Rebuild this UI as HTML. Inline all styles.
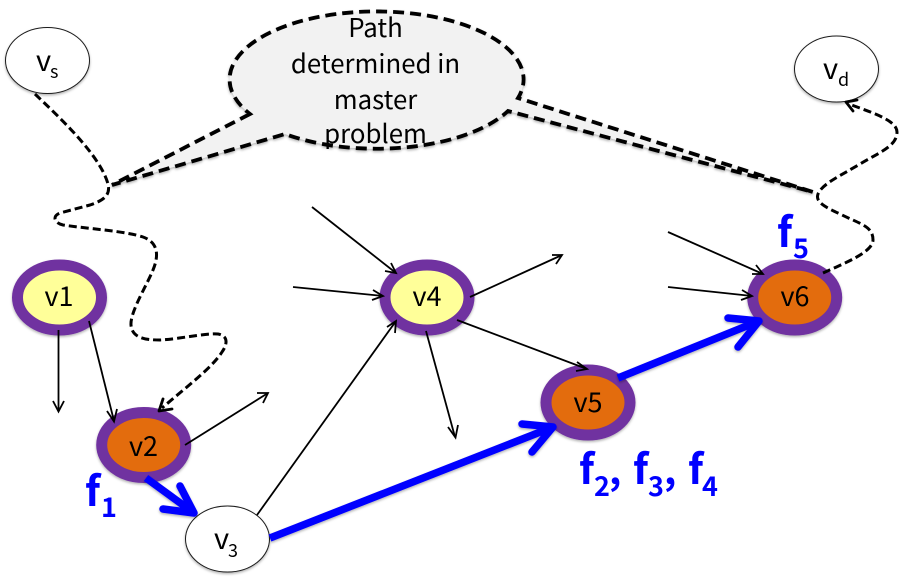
<!DOCTYPE html>
<html>
<head>
<meta charset="utf-8">
<style>
html,body{margin:0;padding:0;background:#fff;width:905px;height:585px;overflow:hidden}
svg{display:block}
text{font-family:"Noto Sans CJK KR","Liberation Sans",sans-serif;fill:#000}
.b{fill:#0000ff;font-weight:700;font-size:41px}
.bs{fill:#0000ff;font-weight:700;font-size:27px}
.cm{fill:#0000ff;font-weight:700;font-size:38px}
.n{font-size:27px;text-anchor:middle}
.c{font-size:25.800px;text-anchor:middle}
</style>
</head>
<body>
<svg width="905" height="585" viewBox="0 0 905 585" xmlns="http://www.w3.org/2000/svg">
<defs>
<filter id="s" x="-20%" y="-20%" width="140%" height="150%">
<feDropShadow dx="0" dy="1.5" stdDeviation="1.2" flood-color="#000" flood-opacity="0.3"/>
</filter>
</defs>

<!-- callout -->
<path d="M250,114 L112,185 L285,134 A147 68 0 0 0 508,111 L813,192 L518,98 A147 68 0 1 0 250,114 Z" fill="#f2f2f2" stroke="#000" stroke-width="3.8" stroke-dasharray="11 6" filter="url(#s)"/>

<!-- plain nodes -->
<g fill="#fff" stroke="#1a1a1a" stroke-width="1" filter="url(#s)">
<ellipse cx="47.500" cy="60.500" rx="42" ry="33"/>
<ellipse cx="836.500" cy="69" rx="42" ry="33"/>
<ellipse cx="227.500" cy="539" rx="42" ry="33"/>
</g>

<!-- purple nodes -->
<g stroke="#7030a0" stroke-width="11" filter="url(#s)">
<ellipse cx="59.500" cy="297.500" rx="42" ry="32.500" fill="#ffff99"/>
<ellipse cx="427" cy="297.500" rx="42" ry="32.500" fill="#ffff99"/>
<ellipse cx="143.700" cy="445" rx="42" ry="32.500" fill="#e36c0a"/>
<ellipse cx="588" cy="402.500" rx="42" ry="32.500" fill="#e36c0a"/>
<ellipse cx="794.700" cy="297.500" rx="42" ry="32.500" fill="#e36c0a"/>
</g>

<!-- dashed paths -->
<g fill="none" stroke="#000" stroke-width="3" stroke-dasharray="8 4">
<path d="M35,94 C60,118 100,155 108,184 C111,196 102,201 90,205 L60,213 C52,216 54,223 63,225 C90,229 125,231 143,237 C160,243 158,258 153,270 C147,285 130,312 131,325 C132,338 145,340 160,340 C180,339 205,333 218,334 C229,336 227,345 222,352 C212,368 185,388 162,408"/>
<path d="M823,273 C845,263 873,252 873,240 C873,226 860,224 840,214 C825,207 815,202 818,194 C822,184 840,176 860,164 C880,152 897,146 897,132 C897,120 870,112 849,104"/>
</g>
<g fill="none" stroke="#000" stroke-width="2.800" stroke-linecap="round" stroke-linejoin="round">
<path d="M172,409 L159,411 L163,399"/>
<path d="M853,111 L846,102 L857,100"/>
</g>

<!-- thin arrows -->
<g fill="none" stroke="#000" stroke-width="1.800">
<path d="M58.500,330 V411"/><path d="M53,401 L58.500,411.500 L64,401"/>
<path d="M89,321 L114,421"/><path d="M107,411 L114,421.500 L117,409"/>
<path d="M185,445 L268,393"/><path d="M257,393 L268,393 L263,403"/>
<path d="M257,515 L396,321"/><path d="M387,327 L396,321 L395,333"/>
<path d="M312,207 L396,273"/><path d="M391,263 L396,273 L385,271"/>
<path d="M293,287 L383,296"/><path d="M373,290 L383,296 L372,300"/>
<path d="M426,331 L455,437"/><path d="M448,427 L455.500,437.500 L458,425"/>
<path d="M470,297 L562,255"/><path d="M552,255 L562,255 L556,264"/>
<path d="M457,320 L587,369"/><path d="M577,362 L587,369 L576,371"/>
<path d="M668,232 L763,274"/><path d="M756,265 L763,274 L752,274"/>
<path d="M668,287 L752,296"/><path d="M742,290 L752,296 L741,300"/>
</g>

<!-- blue arrows -->
<g fill="none" stroke="#0000ff" stroke-width="7.500" stroke-linecap="round" stroke-linejoin="round" filter="url(#s)">
<path d="M146,478 L194,513" stroke-linecap="butt"/><path d="M180,486 L194,513 L163,509"/>
<path d="M270,538 L553,427" stroke-linecap="butt"/><path d="M522,424 L553,427 L532,452"/>
<path d="M618,378 L759,321" stroke-linecap="butt"/><path d="M728,318 L759,321 L738,347"/>
</g>

<!-- callout text -->
<text class="c" x="375.500" y="37">Path</text>
<text class="c" x="375.500" y="73">determined in</text>
<text class="c" x="375.500" y="109">master</text>
<text class="c" x="375.500" y="143">problem</text>

<!-- node labels -->
<text class="n" x="59" y="306">v1</text>
<text class="n" x="143.500" y="456">v2</text>
<text class="n" x="427" y="306">v4</text>
<text class="n" x="588" y="412">v5</text>
<text class="n" x="795" y="306">v6</text>

<text x="36" y="71" font-size="29">v</text><text x="50" y="78" font-size="18">s</text>
<text x="823" y="79" font-size="29">v</text><text x="838" y="86" font-size="18">d</text>
<text x="214" y="549" font-size="29">v</text><text x="228" y="557" font-size="18">3</text>

<!-- flow labels -->
<text class="b" x="85" y="506">f</text><text class="bs" x="101" y="517">1</text>
<text class="b" x="777" y="247">f</text><text class="bs" x="793" y="258">5</text>
<text class="b" x="579" y="484">f</text><text class="bs" x="594" y="496">2</text><text class="cm" x="609" y="484">,</text>
<text class="b" x="633" y="484">f</text><text class="bs" x="648" y="496">3</text><text class="cm" x="664" y="484">,</text>
<text class="b" x="688" y="484">f</text><text class="bs" x="702" y="496">4</text>
</svg>
</body>
</html>
